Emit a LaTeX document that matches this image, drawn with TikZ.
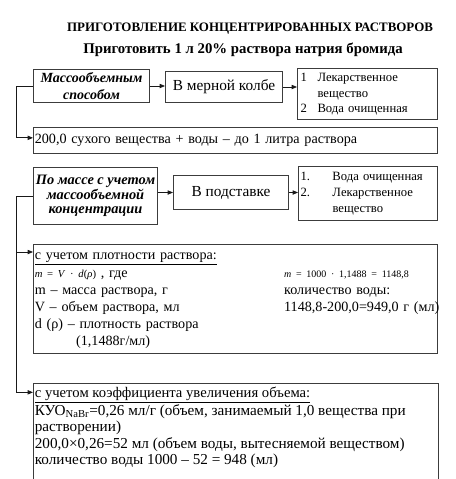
\documentclass[tikz,border=0pt]{standalone}
\usepackage{fontspec}
\setmainfont{Liberation Serif}
\usepackage{tikz}
\usetikzlibrary{arrows.meta, positioning, calc}
\definecolor{mydark}{RGB}{25,25,25}
\definecolor{myframe}{RGB}{60,60,60}
\tikzset{
  box/.style={rectangle, draw=myframe, line width=0.75pt, inner sep=0pt,
    anchor=north west, align=center},
  methodbox/.style={box, font=\fontsize{10.5}{12.75}\selectfont\bfseries\itshape},
  placebox/.style={box, font=\fontsize{11.5}{14}\selectfont},
  listbox/.style={box, align=left, font=\fontsize{9.5}{11.6}\selectfont},
  textbox/.style={box, align=left, inner xsep=1pt, font=\fontsize{10.6}{12.75}\selectfont},
  arrow/.style={-{Triangle[length=4pt,width=3.2pt]}, line width=0.6pt, color=mydark},
  line/.style={line width=0.6pt, color=mydark}
}

\begin{document}
\begin{tikzpicture}[x=0.75pt, y=-0.75pt]
  \useasboundingbox (0,0) rectangle (455,479);

  % titles
  \node[font=\fontsize{9.7}{11}\selectfont\bfseries] (title) at (250,29)
    {ПРИГОТОВЛЕНИЕ КОНЦЕНТРИРОВАННЫХ РАСТВОРОВ};
  \node[font=\fontsize{11.1}{13}\selectfont\bfseries] (task) at (243,50)
    {Приготовить 1 л 20\% раствора натрия бромида};

  % mass-volume method
  \node[methodbox, minimum width=87pt, minimum height=24.75pt] (mass1) at (33,69)
    {Массообъемным\\способом};
  \node[placebox, minimum width=87.75pt, minimum height=23.25pt] (flask) at (165,71)
    {В мерной колбе};
  \node[listbox, inner xsep=2.25pt, text width=100.5pt, minimum height=38.25pt] (list1) at (297,68)
    {\begin{tabular}{@{}p{12.75pt}@{}l@{}}
      1 & Лекарственное\\ & вещество\\ 2 & Вода очищенная
    \end{tabular}};
  \node[textbox, text width=301pt, minimum height=19.5pt] (dry) at (33,127)
    {200,0 сухого вещества + воды – до 1 литра раствора};

  % by mass method
  \node[methodbox, font=\fontsize{10.8}{11}\selectfont\bfseries\itshape,
    minimum width=93pt, minimum height=42.75pt] (mass2) at (33,167)
    {По массе с учетом\\массообъемной\\концентрации};
  \node[placebox, minimum width=86.25pt, minimum height=25.5pt] (stand) at (173,175)
    {В подставке};
  \node[listbox, font=\fontsize{9.5}{12}\selectfont, inner xsep=1.5pt, text width=101.25pt,
    minimum height=40.5pt] (list2) at (298,166)
    {\begin{tabular}{@{}p{24pt}@{}l@{}}
      1. & Вода очищенная\\ 2. & Лекарственное\\ & вещество
    \end{tabular}};

  \node[textbox, text width=301pt, minimum height=81.75pt] (dens) at (33,244)
    {\begin{tabular}{@{}p{187pt}@{}l@{}}
      \multicolumn{2}{@{}l@{}}{\underline{с учетом плотности раствора:}}\\
      {\fontsize{8}{10}\selectfont\textit{m} = \textit{V} · \textit{d}(\textit{ρ})} , где &
        {\fontsize{7.5}{10}\selectfont\textit{m} = 1000 · 1,1488 = 1148,8}\\
      m – масса раствора, г & количество воды:\\
      V – объем раствора, мл & 1148,8-200,0=949,0 г (мл)\\
      d (ρ) – плотность раствора & \\
      \hspace*{31pt}(1,1488г/мл) &
    \end{tabular}};

  \node[box, inner xsep=1pt, inner ysep=1.5pt, font=\fontsize{11.4}{12.4}\selectfont] (coef) at (33,383)
    {\parbox[c][80pt][t]{302pt}{\raggedright\strut{\fontsize{11}{12.4}\selectfont\underline{с учетом коэффициента увеличения объема:}}\\
      КУО\textsubscript{NaBr}=0,26 мл/г (объем, занимаемый 1,0 вещества при\\
      растворении)\\
      200,0×0,26=52 мл (объем воды, вытесняемой веществом)\\
      количество воды 1000 – 52 = 948 (мл)}};

  % connectors
  \draw[arrow] (mass1.east) -- (mass1.east -| flask.west);
  \draw[arrow] (flask.east) -- (flask.east -| list1.west);
  \draw[arrow] (mass1.west) -- ++(-17,0) |- ([yshift=2pt]dry.west);

  \draw[arrow] (mass2.east |- stand.west) -- (stand.west);
  \draw[arrow] (stand.east) -- (stand.east -| list2.west);
  \draw[arrow] (mass2.west) -- ++(-17,0) coordinate (trunk) |- ([yshift=-6pt]dens.north west);
  \draw[arrow] (trunk) |- ([yshift=-7pt]coef.north west);
\end{tikzpicture}
\end{document}
